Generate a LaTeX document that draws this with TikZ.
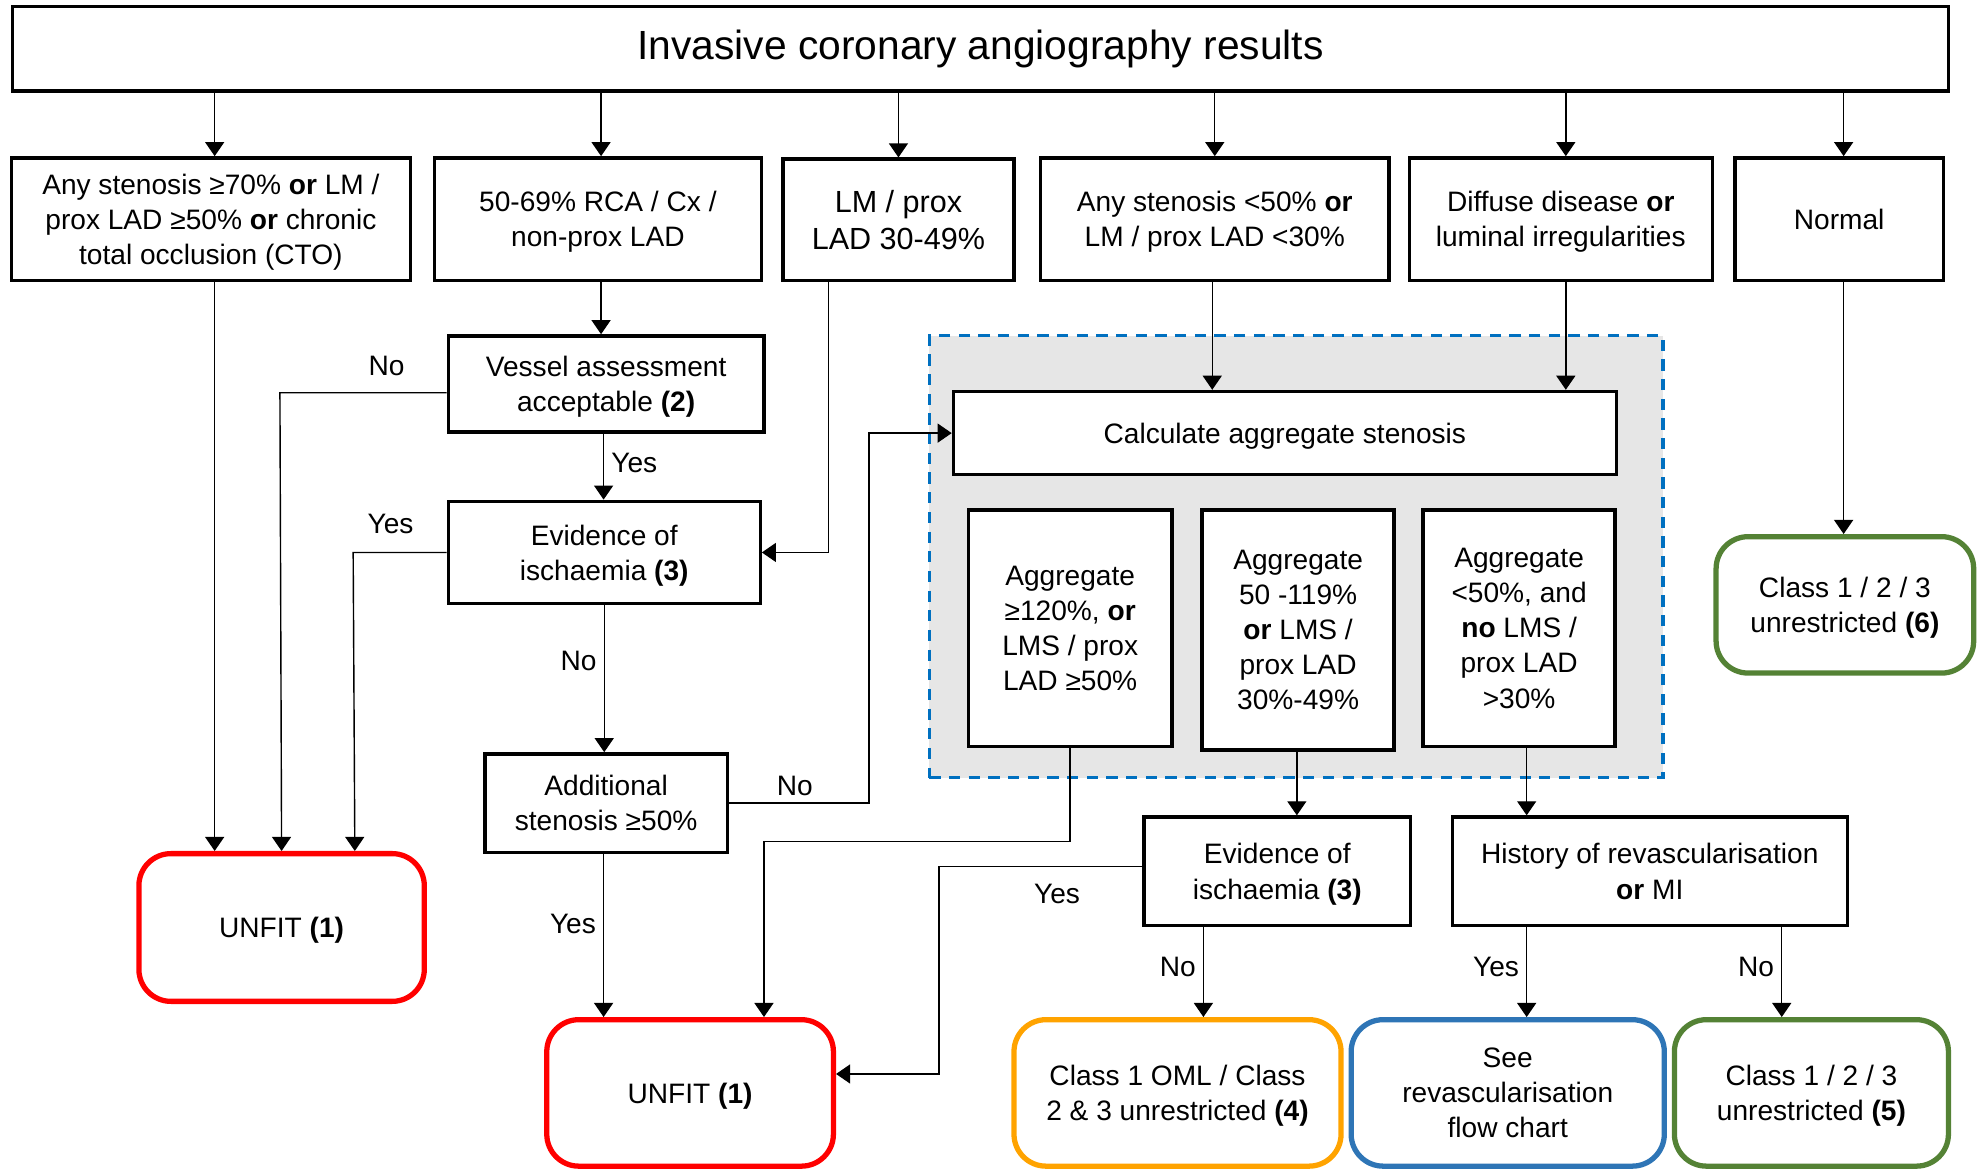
\documentclass[tikz,border=0pt]{standalone}
\usepackage{fontspec}
\setmainfont{Liberation Sans}
\usetikzlibrary{arrows.meta,calc,positioning}
\definecolor{unfitred}{RGB}{255,0,0}
\definecolor{classorange}{RGB}{255,163,0}
\definecolor{revblue}{RGB}{46,117,182}
\definecolor{classgreen}{RGB}{84,130,53}
\definecolor{zoneblue}{RGB}{0,112,192}
\definecolor{zonegrey}{RGB}{230,230,230}
\tikzset{
	-{Triangle[length=4pt,width=5.4pt]},line width=0.85pt,
	box/.style 2 args={rectangle, draw, line width=0.95pt, fill=white, align=center, inner sep=0pt,
		minimum width=#1*0.012628cm, minimum height=#2*0.012628cm, font=\fontsize{8}{10}\selectfont,
		text depth=-1pt},
	tallbox/.style 2 args={box={#1}{#2}, text depth=},
	outcome/.style n args={3}{box={#1}{#2}, draw=#3, line width=1.5pt, rounded corners=0.32cm},
	zone/.style 2 args={rectangle, draw=zoneblue, fill=zonegrey, line width=0.9pt, dash pattern=on 3.2pt off 2.4pt,
		minimum width=#1*0.012628cm, minimum height=#2*0.012628cm},
	lbl/.style={font=\fontsize{8}{10}\selectfont, inner sep=2pt}
}

\begin{document}
\begin{tikzpicture}[x=0.012628cm,y=-0.012628cm]
	\useasboundingbox (0,0) rectangle (1568,926);
	\node[tallbox={1533}{67}, font=\fontsize{11.6}{14}\selectfont] (results) at (776.5,38.5) {Invasive coronary angiography results};
	
	% second row
	\node[box={316}{97}] (anysten) at (167,173.5) {Any stenosis ≥70\% \textbf{or} LM /\\ prox LAD ≥50\% \textbf{or} chronic\\ total occlusion (CTO)};
	\node[box={259}{97}] (midsten) at (473.5,173.5) {50-69\% RCA / Cx /\\ non-prox LAD};
	\node[box={183}{96}, font=\fontsize{8.7}{10.5}\selectfont] (lmprox) at (711.5,174) {LM / prox\\ LAD 30-49\%};
	\node[box={276}{97}] (lowsten) at (962,173.5) {Any stenosis <50\% \textbf{or}\\ LM / prox LAD <30\%};
	\node[box={240}{97}] (diffuse) at (1236,173.5) {Diffuse disease \textbf{or}\\ luminal irregularities};
	\node[tallbox={165}{97}] (normal) at (1456.5,173.5) {Normal};
	
	% left branch
	\node[box={250}{76}] (vessel) at (480,304) {Vessel assessment\\ acceptable \textbf{(2)}};
	\node[box={247}{81}] (isch) at (478.5,437.5) {Evidence of\\ ischaemia \textbf{(3)}};
	\node[box={192}{78}] (addsten) at (480,636) {Additional\\ stenosis ≥50\%};
	\node[outcome={226}{117}{unfitred}] (unfitA) at (223,734.5) {UNFIT \textbf{(1)}};
	\node[outcome={227}{116}{unfitred}] (unfitB) at (546.5,865.5) {UNFIT \textbf{(1)}};
	
	% aggregate stenosis
	\node[zone={581}{350}] (aggzone) at (1026.5,441) {};
	\node[box={525}{66}] (calcagg) at (1017.5,343) {Calculate aggregate stenosis};
	\node[tallbox={161}{187}] (aggHigh) at (847.5,497.5) {Aggregate\\ ≥120\%, \textbf{or}\\ LMS / prox\\ LAD ≥50\%};
	\node[tallbox={152}{190}] (aggMid) at (1028,499) {Aggregate\\ 50 -119\%\\ \textbf{or} LMS /\\ prox LAD\\ 30\%-49\%};
	\node[tallbox={152}{187}] (aggLow) at (1203,497.5) {Aggregate\\ <50\%, and\\ \textbf{no} LMS /\\ prox LAD\\ >30\%};
	\node[outcome={204}{108}{classgreen}] (classSix) at (1461,479) {Class 1 / 2 / 3\\ unrestricted \textbf{(6)}};
	
	% lower right
	\node[box={211}{86}] (ischB) at (1011.5,690) {Evidence of\\ ischaemia \textbf{(3)}};
	\node[box={313}{86}] (history) at (1306.5,690) {History of revascularisation\\ \textbf{or} MI};
	\node[outcome={259}{116}{classorange}] (classFour) at (932.5,865.5) {Class 1 OML / Class\\ 2 \& 3 unrestricted \textbf{(4)}};
	\node[outcome={248}{116}{revblue}] (revasc) at (1194,865.5) {See\\ revascularisation\\ flow chart};
	\node[outcome={217}{116}{classgreen}] (classFive) at (1434.5,865.5) {Class 1 / 2 / 3\\ unrestricted \textbf{(5)}};
	
	% columns of the vertical connectors
	\coordinate (colAny) at ($(anysten.north)+(3,0)$);
	\coordinate (colMid) at ($(midsten.north)+(2.5,0)$);
	\coordinate (colDiff) at ($(diffuse.north)+(4,0)$);
	\coordinate (colNorm) at ($(normal.north)+(3.5,0)$);
	\coordinate (colLow) at ($(lowsten.south)+(-2,0)$);
	\coordinate (colVes) at ($(vessel.south)+(-2,0)$);
	\coordinate (colAdd) at ($(addsten.south)+(-2,0)$);
	\coordinate (colAggMid) at ($(aggMid.south)+(-1,0)$);
	\coordinate (colAggLow) at ($(aggLow.south)+(6,0)$);
	\coordinate (colIschB) at ($(ischB.south)+(-58.5,0)$);
	\coordinate (colRevYes) at ($(history.south)+(-97.5,0)$);
	\coordinate (colRevNo) at ($(history.south)+(104.5,0)$);
	\coordinate (colLm) at ($(lmprox.south)+(-55.5,0)$);
	\coordinate (unfitAin) at ($(unfitA.north)+(58,0)$);
	\coordinate (unfitBin) at ($(unfitB.north)+(58.5,0)$);
	\coordinate (unfitBside) at ($(unfitB.east)+(0,-15)$);
	
	\path (colAny |- results.south) edge (colAny |- anysten.north);
	\path (colMid |- results.south) edge (colMid |- midsten.north);
	\path (lmprox.north |- results.south) edge (lmprox.north);
	\path (lowsten.north |- results.south) edge (lowsten.north);
	\path (colDiff |- results.south) edge (colDiff |- diffuse.north);
	\path (colNorm |- results.south) edge (colNorm |- normal.north);
	
	\path (colAny |- anysten.south) edge (colAny |- unfitA.north);
	\draw ($(vessel.west)+(0,7)$) -- node[pos=0.36,above=2.5pt,lbl] {No} ++(-132,0) -- (unfitA.north);
	\draw (isch.west) -- node[pos=0.6,above=3pt,lbl] {Yes} ++(-74,0) -- (unfitAin);
	\path (colMid |- midsten.south) edge (colMid |- vessel.north);
	\path (colVes) edge node[pos=0.45,right,lbl] {Yes} (colVes |- isch.north);
	\draw (colLm) |- (isch.east);
	\path (isch.south) edge node[pos=0.38,left,lbl] {No} (isch.south |- addsten.north);
	\draw (addsten.east) -- node[pos=0.47,above,lbl] {No} ++(111,0) |- (calcagg.west);
	\path (colAdd) edge node[pos=0.43,left,lbl] {Yes} (colAdd |- unfitB.north);
	\draw (aggHigh.south) -- ++(0,74) -| (unfitBin);
	\draw ($(ischB.west)+(0,-4)$) -- node[pos=0.42,below=3pt,lbl] {Yes} ++(-161,0) |- (unfitBside);
	
	\path (colLow) edge (colLow |- calcagg.north);
	\path (colDiff |- diffuse.south) edge (colDiff |- calcagg.north);
	\path (colNorm |- normal.south) edge (colNorm |- classSix.north);
	\path (colAggMid) edge (colAggMid |- ischB.north);
	\path (colAggLow) edge (colAggLow |- history.north);
	\path (colIschB) edge node[pos=0.44,left,lbl] {No} (colIschB |- classFour.north);
	\path (colRevYes) edge node[pos=0.44,left,lbl] {Yes} (colRevYes |- revasc.north);
	\path (colRevNo) edge node[pos=0.44,left,lbl] {No} (colRevNo |- classFive.north);
\end{tikzpicture}
\end{document}
